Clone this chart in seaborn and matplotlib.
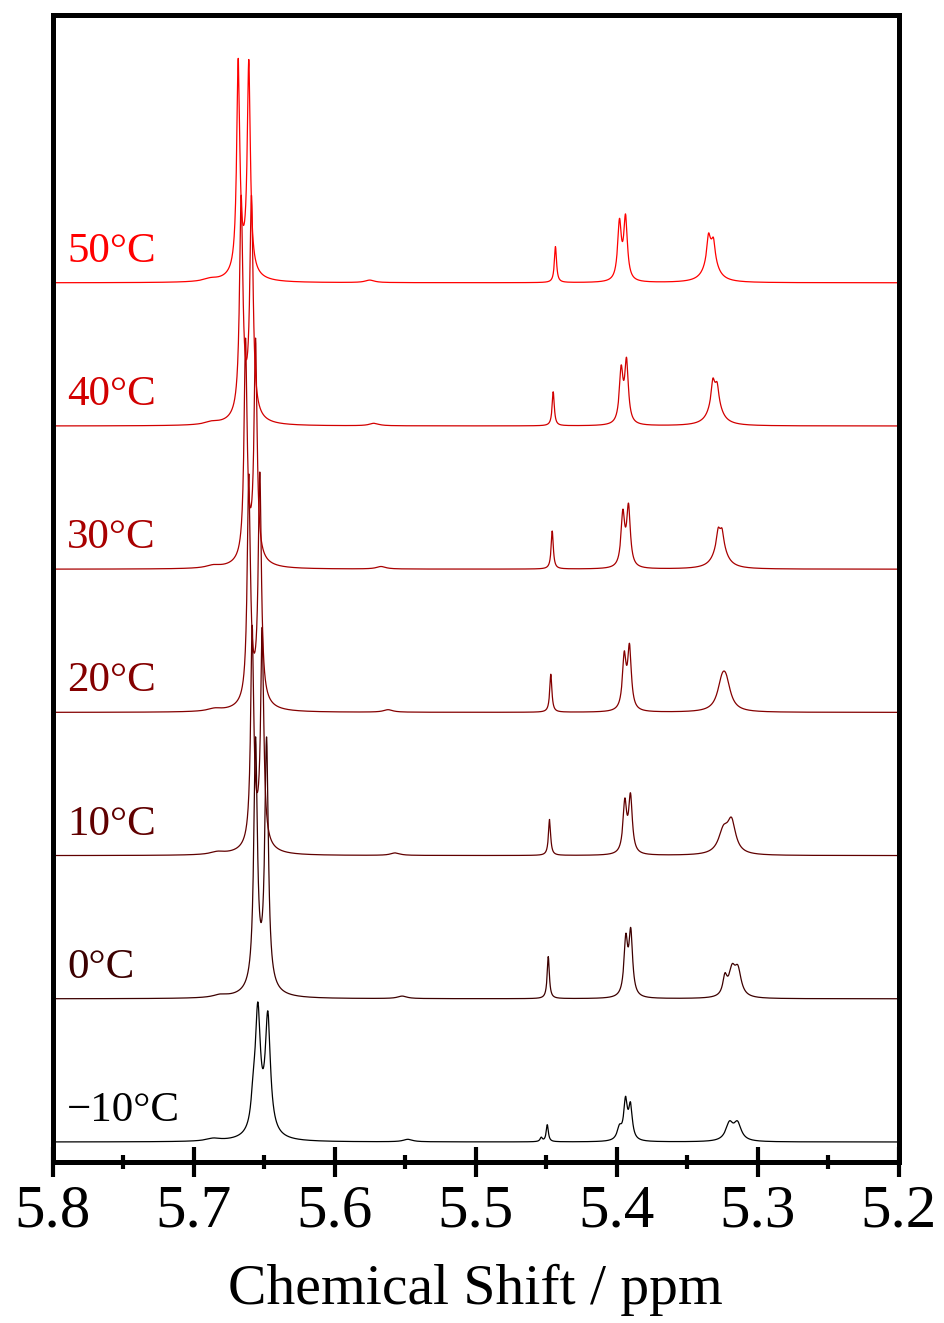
import numpy as np
import pandas as pd
import seaborn as sns
import matplotlib.pyplot as plt
from matplotlib.ticker import MultipleLocator, FormatStrFormatter

# ---- data -------------------------------------------------------------
temperatures = ["\u221210\u00b0C", "0\u00b0C", "10\u00b0C", "20\u00b0C", "30\u00b0C", "40\u00b0C", "50\u00b0C"]
trace_colors = ["#000000", "#3c0000", "#600000", "#840000", "#a80000", "#d20000", "#ff0000"]

# peak tables: (chemical shift / ppm, height, half width at half maximum / ppm)
peaks_m10 = [(5.6576, 25, 0.0018), (5.6544, 116, 0.00216), (5.6473, 112, 0.00216),
             (5.6509, 10, 0.0085), (5.6860, 2.5, 0.006), (5.5480, 2.5, 0.004),
             (5.4491, 17, 0.00092), (5.4534, 4, 0.0010),
             (5.3979, 12, 0.0020), (5.3936, 38, 0.00156), (5.3901, 33, 0.00156),
             (5.3199, 17, 0.0032), (5.3142, 17, 0.0032)]
peaks_0 = [(5.6560, 243, 0.00152), (5.6482, 243, 0.00152), (5.6521, 12, 0.0085),
           (5.6810, 2.5, 0.006), (5.5520, 2.5, 0.004),
           (5.4484, 42, 0.00092),
           (5.3934, 55, 0.00156), (5.3899, 62, 0.00156),
           (5.3231, 18, 0.0018), (5.3180, 25, 0.0028), (5.3139, 25, 0.0028)]
peaks_10 = [(5.6584, 213, 0.00131), (5.6513, 211, 0.00131), (5.6549, 12, 0.0085),
            (5.6830, 2.5, 0.006), (5.5570, 2.5, 0.004),
            (5.4475, 36, 0.00092),
            (5.3941, 50, 0.00156), (5.3901, 56, 0.00156),
            (5.3241, 22.5, 0.0043), (5.3184, 30, 0.0035)]
peaks_20 = [(5.6608, 222, 0.00134), (5.6530, 224, 0.00134), (5.6569, 12, 0.0085),
            (5.6850, 2.5, 0.006), (5.5620, 2.5, 0.004),
            (5.4466, 38, 0.00092),
            (5.3945, 52, 0.00156), (5.3908, 61, 0.00156),
            (5.3252, 23.5, 0.0039), (5.3223, 23.5, 0.0039)]
peaks_30 = [(5.6631, 214, 0.00128), (5.6560, 214, 0.00128), (5.6595, 12, 0.0085),
            (5.6860, 2.5, 0.006), (5.5670, 2.5, 0.004),
            (5.4456, 38, 0.00092),
            (5.3955, 52, 0.00156), (5.3915, 59, 0.00156),
            (5.3265, 30, 0.0046), (5.3279, 12, 0.0013), (5.3251, 11, 0.0013)]
peaks_40 = [(5.6662, 213, 0.00139), (5.6589, 213, 0.00139), (5.6626, 12, 0.0085),
            (5.6870, 2.5, 0.006), (5.5720, 2.5, 0.004),
            (5.4449, 34, 0.00092),
            (5.3967, 52, 0.00156), (5.3929, 61, 0.00156),
            (5.3301, 31, 0.0045), (5.3317, 18, 0.0013), (5.3286, 13, 0.0013)]
peaks_50 = [(5.6683, 208, 0.00131), (5.6608, 207, 0.00131), (5.6646, 12, 0.0085),
            (5.6880, 2.5, 0.006), (5.5750, 2.5, 0.004),
            (5.4433, 36, 0.00092),
            (5.3979, 57, 0.00156), (5.3936, 62, 0.00156),
            (5.3330, 32, 0.0045), (5.3348, 20, 0.0013), (5.3312, 15, 0.0013)]

peak_tables = [peaks_m10, peaks_0, peaks_10, peaks_20, peaks_30, peaks_40, peaks_50]

# ---- spectra ----------------------------------------------------------
shift = np.linspace(5.2, 5.8, 6001)


def lorentzian_sum(peaks):
    y = np.zeros_like(shift)
    for pos, height, hwhm in peaks:
        y += height / (1.0 + ((shift - pos) / hwhm) ** 2)
    return y


stack_step = 143.2  # vertical offset between consecutive traces

frames = []
for i, (label, peaks) in enumerate(zip(temperatures, peak_tables)):
    frames.append(pd.DataFrame({
        "shift": shift,
        "intensity": lorentzian_sum(peaks) + i * stack_step,
        "trace": label,
    }))
spectra = pd.concat(frames, ignore_index=True)

# ---- figure -----------------------------------------------------------
sns.set_theme(style="white")
plt.rcParams["font.family"] = ["Liberation Serif", "DejaVu Serif"]
plt.rcParams["text.color"] = "black"
plt.rcParams["axes.labelcolor"] = "black"
plt.rcParams["xtick.color"] = "black"

fig = plt.figure(figsize=(9.45, 13.23), dpi=100)
ax = fig.add_axes([0.0556, 0.12169, 0.8952, 0.86697])

sns.lineplot(data=spectra, x="shift", y="intensity", hue="trace",
             palette=dict(zip(temperatures, trace_colors)),
             estimator=None, sort=False, linewidth=0.9, legend=False, ax=ax)

for i, (label, color) in enumerate(zip(temperatures, trace_colors)):
    ax.text(5.7897, i * stack_step + 21, label, color=color, fontsize=31,
            ha="left", va="baseline")

ax.set_xlim(5.8, 5.2)
ax.set_ylim(-20, 1127)
ax.set_yticks([])
ax.set_ylabel("")
ax.set_xlabel("Chemical Shift / ppm", fontsize=41.5, color="black", labelpad=18)

ax.xaxis.set_major_locator(MultipleLocator(0.1))
ax.xaxis.set_minor_locator(MultipleLocator(0.05))
ax.xaxis.set_major_formatter(FormatStrFormatter("%.1f"))
ax.tick_params(axis="x", which="major", direction="inout", length=21, width=3,
               labelsize=44, pad=5, color="black", labelcolor="black", bottom=True)
ax.tick_params(axis="x", which="minor", direction="inout", length=10, width=3,
               bottom=True, color="black")

for side in ["left", "right", "top", "bottom"]:
    ax.spines[side].set_visible(True)
    ax.spines[side].set_color("black")
    ax.spines[side].set_linewidth(3.6)

fig.savefig("out.png", dpi=100, facecolor="white")
